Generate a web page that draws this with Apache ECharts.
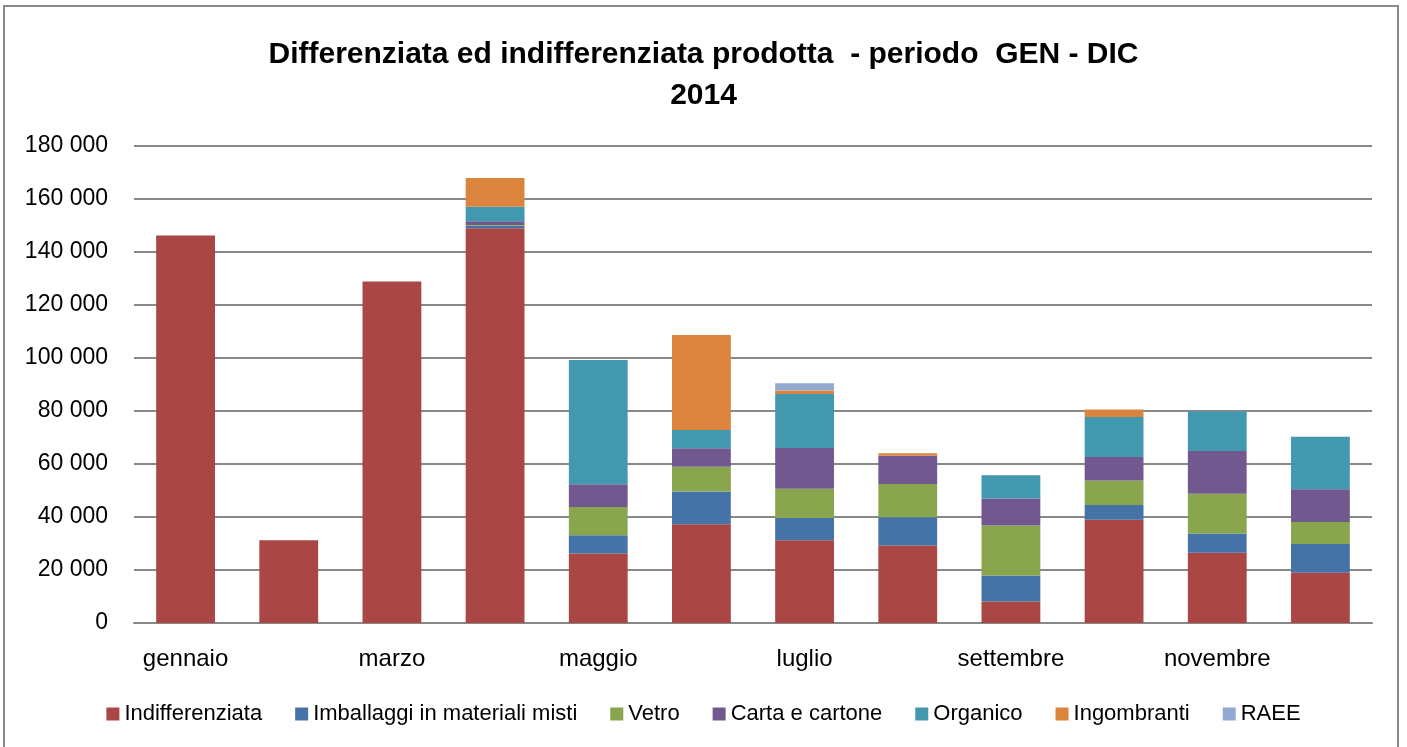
<!DOCTYPE html>
<html>
<head>
<meta charset="utf-8">
<script src="https://cdn.jsdelivr.net/npm/echarts@6/dist/echarts.min.js"></script>
<style>
html,body{margin:0;padding:0;background:#fff;}
#frame{position:absolute;left:3px;top:5px;width:1396px;height:760px;border:2px solid #8a8a8a;box-sizing:border-box;}
#chart{position:absolute;left:0;top:0;width:1407px;height:747px;}
</style>
</head>
<body>
<div id="frame"></div>
<div id="chart"></div>
<script>
const categories = ['gennaio','febbraio','marzo','aprile','maggio','giugno','luglio','agosto','settembre','ottobre','novembre','dicembre'];
const seriesNames = ['Indifferenziata','Imballaggi in materiali misti','Vetro','Carta e cartone','Organico','Ingombranti','RAEE'];
const indifferenziata = [146200, 31200, 128900, 149000, 26200, 37300, 31200, 29200, 8100, 39000, 26500, 19000];
const imballaggi      = [0, 0, 0, 900, 6900, 12300, 8400, 10700, 9800, 5500, 7300, 10800];
const vetro           = [0, 0, 0, 300, 10700, 9400, 11100, 12600, 18900, 9300, 15000, 8300];
const carta           = [0, 0, 0, 1400, 8600, 6900, 15300, 10600, 10200, 8800, 16100, 12400];
const organico        = [0, 0, 0, 5500, 46800, 6900, 20400, 0, 8800, 15100, 14900, 19800];
const ingombranti     = [0, 0, 0, 10800, 0, 35900, 1300, 1000, 0, 2900, 0, 0];
const raee            = [0, 0, 0, 0, 0, 0, 2800, 0, 0, 0, 0, 0];
const colors = ['#AA4643','#4572A7','#89A54E','#71588F','#4198AF','#DB843D','#93A9CF'];
const titleLines = ['Differenziata ed indifferenziata prodotta  - periodo  GEN - DIC', '2014'];

const allData = [indifferenziata, imballaggi, vetro, carta, organico, ingombranti, raee];
const FONT = '"Liberation Sans", Arial, sans-serif';

const chart = echarts.init(document.getElementById('chart'), null, {renderer:'canvas'});
chart.setOption({
  animation: false,
  color: colors,
  title: {
    text: titleLines.join('\n'),
    left: 'center',
    top: 29,
    textStyle: {fontFamily: FONT, fontSize: 30, fontWeight: 'bold', color: '#000', lineHeight: 41}
  },
  legend: {
    bottom: 17,
    left: 'center',
    itemWidth: 13,
    itemHeight: 13,
    itemGap: 33,
    icon: 'rect',
    textStyle: {fontFamily: FONT, fontSize: 22, color: '#000', padding: [0,0,0,0]},
    data: seriesNames
  },
  grid: {left: 134, right: 35, top: 146, bottom: 124, containLabel: false},
  xAxis: {
    type: 'category',
    data: categories,
    axisLine: {show: true, lineStyle: {color: '#888888', width: 2}},
    axisTick: {show: false},
    axisLabel: {interval: 1, fontFamily: FONT, fontSize: 24, color: '#000', margin: 24}
  },
  yAxis: {
    type: 'value',
    min: 0, max: 180000, interval: 20000,
    axisLine: {show: false},
    axisTick: {show: false},
    splitLine: {lineStyle: {color: '#888888', width: 2}},
    axisLabel: {
      fontFamily: FONT, fontSize: 23, color: '#000', margin: 26,
      formatter: v => String(v).replace(/\B(?=(\d{3})+(?!\d))/g, ' ')
    }
  },
  series: seriesNames.map((n, i) => ({
    name: n,
    type: 'bar',
    stack: 'total',
    barCategoryGap: '43%',
    data: allData[i],
    itemStyle: {color: colors[i]}
  }))
});
</script>
</body>
</html>
